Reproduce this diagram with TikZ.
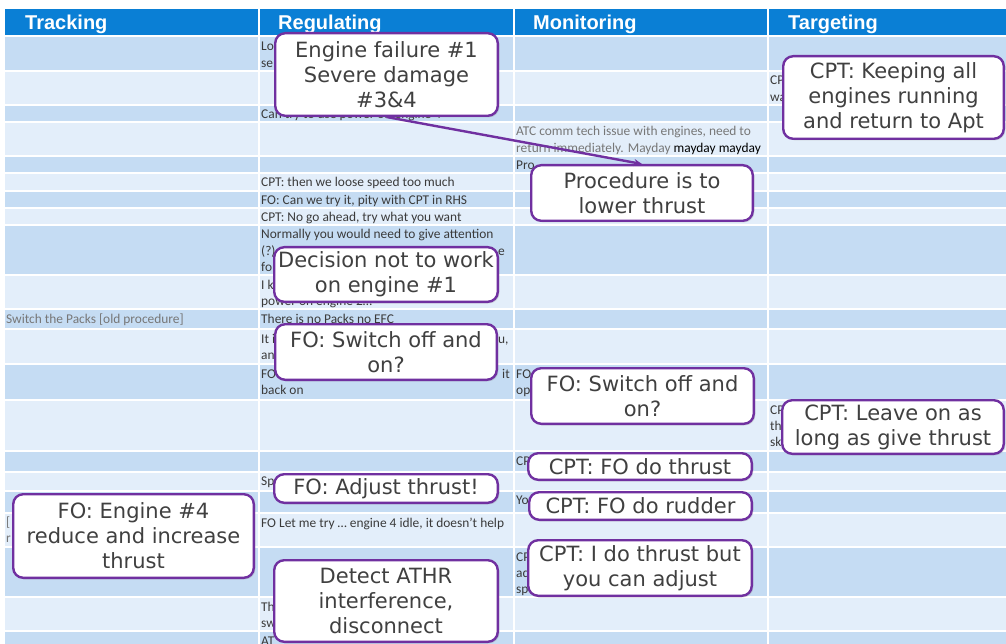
\documentclass[tikz,border=0pt]{standalone}
\usepackage{fontspec}
\setmainfont{DejaVu Sans}
\newfontfamily\cellfont{Carlito}
\newfontfamily\headfont{Liberation Sans}
\usetikzlibrary{shadows,arrows.meta}

\definecolor{hdrblue}{HTML}{0A7FD5}
\definecolor{rowdark}{HTML}{C5DCF3}
\definecolor{rowlight}{HTML}{E3EEFA}
\definecolor{callborder}{HTML}{7030A0}
\definecolor{calltext}{HTML}{404040}
\definecolor{celltext}{HTML}{3A3A3A}
\definecolor{greytext}{HTML}{777777}

\begin{document}
\begin{tikzpicture}[x=1pt,y=-1pt,
  callout/.style={draw=callborder, line width=2.4pt, fill=white,
    rounded corners=10pt, align=center, text=calltext, inner sep=0pt,
    font=\fontsize{21}{25}\selectfont,
    drop shadow={opacity=0.25, shadow xshift=1.5pt, shadow yshift=-1.5pt}},
  cell/.style={anchor=base west, inner sep=0pt, text=celltext,
    font=\cellfont\fontsize{13.4}{16.3}\selectfont},
  oldcell/.style={cell, text=greytext},
  head/.style={anchor=base west, inner sep=0pt, text=white,
    font=\headfont\bfseries\fontsize{20}{24}\selectfont},
  link/.style={draw=callborder, line width=2.4pt,
    -{Stealth[length=8pt,width=7pt]}}
]
\useasboundingbox (0,0) rectangle (1006,644);
\fill[white] (0,0) rectangle (1006,644);

% header band
\fill[hdrblue] (5,9) rectangle (1006,35);

% table rows (top/bottom/colour)
\foreach \t/\b/\c in {37/71/rowdark, 71/105/rowlight, 105/122/rowdark,
  122/156/rowlight, 156/173/rowdark, 173/191/rowlight, 191/208/rowdark,
  208/225/rowlight, 225/275/rowdark, 275/309/rowlight, 309/329/rowdark,
  329/364/rowlight, 364/400/rowdark, 400/451/rowlight, 451/472/rowdark,
  472/491/rowlight, 491/513/rowdark, 513/547/rowlight, 547/597/rowdark,
  597/631/rowlight, 631/650/rowdark}
  \fill[\c] (5,\t) rectangle (1006,\b);

% white grid lines
\foreach \y in {71,105,122,156,173,191,208,225,275,309,329,364,400,451,472,491,513,547,597,631}
  \draw[white, line width=1.5pt] (5,\y) -- (1006,\y);
\foreach \x in {259,514,768}
  \draw[white, line width=2pt] (\x,9) -- (\x,650);

% column headers
\node[head] (hT) at (25,29.5) {Tracking};
\node[head] (hR) at (278,29.5) {Regulating};
\node[head] (hM) at (533,29.5) {Monitoring};
\node[head] (hG) at (788,29.5) {Targeting};

% Tracking column
\node[oldcell] (k1) at (6,323) {Switch the Packs [old procedure]};
\node[oldcell] (k2) at (6,526) {[};
\node[oldcell] (k3) at (6,542) {r};

% Regulating column
\node[cell] (r1) at (261,51) {Lo};
\node[cell] (r2) at (261,67.3) {se};
\node[cell] (r3) at (261,119) {Can try to use power on engine 4};
\node[cell] (r4) at (261,187) {CPT: then we loose speed too much};
\node[cell] (r5) at (261,205) {FO: Can we try it, pity with CPT in RHS};
\node[cell] (r6) at (261,222) {CPT: No go ahead, try what you want};
\node[cell] (r7) at (261,239) {Normally you would need to give attention};
\node[cell] (r8) at (261,255.3) {(?)};
\node[cell] (r9) at (498,255.3) {e};
\node[cell] (r10) at (261,271.6) {fo};
\node[cell] (r11) at (261,289) {I k};
\node[cell] (r12) at (261,305.3) {power on engine 2…};
\node[cell] (r13) at (261,323) {There is no Packs no EFC};
\node[cell] (r14) at (261,343) {It i};
\node[cell] (r15) at (498,343) {u,};
\node[cell] (r16) at (261,359.3) {an};
\node[cell] (r17) at (261,378) {FO};
\node[cell] (r18) at (502,378) {it};
\node[cell] (r19) at (261,394.3) {back on};
\node[cell] (r20) at (261,485) {Sp};
\node[cell] (r21) at (261,527) {FO Let me try … engine 4 idle, it doesn’t help};
\node[cell] (r22) at (261,611) {Th};
\node[cell] (r23) at (261,627.3) {sw};
\node[cell] (r24) at (261,645) {AT};

% Monitoring column
\node[oldcell] (m1) at (516,136) {ATC comm tech issue with engines, need to};
\node[oldcell] (m2) at (516,152.3) {return immediately. Mayday \textcolor{black}{mayday mayday}};
\node[cell] (m3) at (516,170) {Pro};
\node[cell] (m4) at (516,378) {FO};
\node[cell] (m5) at (516,394.3) {op};
\node[cell] (m6) at (516,465) {CP};
\node[cell] (m7) at (516,504) {Yo};
\node[cell] (m8) at (516,561) {CP};
\node[cell] (m9) at (516,577.3) {ad};
\node[cell] (m10) at (516,593.6) {sp};

% Targeting column
\node[cell] (g1) at (770,85) {CP};
\node[cell] (g2) at (770,101.3) {wa};
\node[cell] (g3) at (770,414) {CP};
\node[cell] (g4) at (770,430.3) {th};
\node[cell] (g5) at (770,446.6) {sk};

% callout boxes
\node[callout, minimum width=222.6pt, minimum height=82.6pt] (b1) at (386.5,74.5)
  {Engine failure \#1\\Severe damage\\\#3\&4};
\node[callout, minimum width=220.6pt, minimum height=82.6pt] (b2) at (893.5,97.5)
  {CPT: Keeping all\\engines running\\and return to Apt};
\node[callout, minimum width=221.6pt, minimum height=55.6pt] (b3) at (642,193)
  {Procedure is to\\lower thrust};
\draw[link] (b1.south) -- (b3.north);
\node[callout, minimum width=223.6pt, minimum height=54.6pt] (b4) at (386,274.5)
  {Decision not to work\\on engine \#1};
\node[callout, minimum width=221.6pt, minimum height=55.6pt] (b5) at (386,352)
  {FO: Switch off and\\on?};
\node[callout, minimum width=222.6pt, minimum height=55.6pt] (b6) at (642.5,396)
  {FO: Switch off and\\on?};
\node[callout, minimum width=221.6pt, minimum height=53.6pt] (b7) at (893,427)
  {CPT: Leave on as\\long as give thrust};
\node[callout, minimum width=223.6pt, minimum height=26.6pt] (b8) at (640,466.5)
  {CPT: FO do thrust};
\node[callout, minimum width=222.6pt, minimum height=27.6pt] (b9) at (640.5,506)
  {CPT: FO do rudder};
\node[callout, minimum width=223.6pt, minimum height=55.6pt] (b10) at (640,568)
  {CPT: I do thrust but\\you can adjust};
\node[callout, minimum width=223.6pt, minimum height=28.6pt] (b11) at (386,488.5)
  {FO: Adjust thrust!};
\node[callout, minimum width=240.6pt, minimum height=83.6pt] (b12) at (133.5,536)
  {FO: Engine \#4\\reduce and increase\\thrust};
\node[callout, minimum width=223.6pt, minimum height=81.6pt] (b13) at (386,601)
  {Detect ATHR\\interference,\\disconnect};
\end{tikzpicture}
\end{document}
